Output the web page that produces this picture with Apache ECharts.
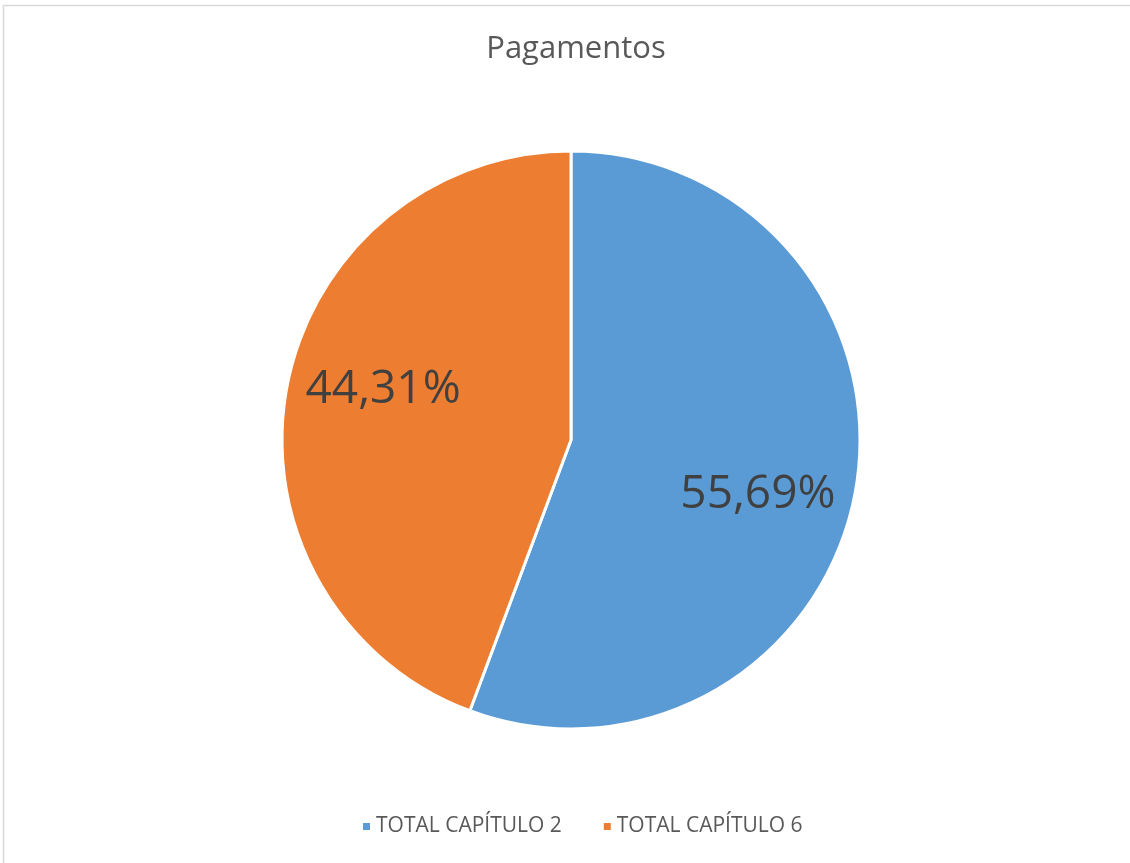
<!DOCTYPE html>
<html>
<head>
<meta charset="utf-8">
<script src="https://cdn.jsdelivr.net/npm/echarts@6/dist/echarts.min.js"></script>
<style>
  html, body { margin: 0; padding: 0; background: #fff; }
  #chart { width: 1130px; height: 863px; }
</style>
</head>
<body>
<div id="chart"></div>
<script>
// dados do gráfico
const categorias = ['TOTAL CAPÍTULO 2', 'TOTAL CAPÍTULO 6'];
const percentagens = [55.69, 44.31];
const cores = ['#5B9BD5', '#ED7D31'];

const fonte = '"Open Sans", "Noto Sans", sans-serif';
const dados = categorias.map((nome, i) => ({ name: nome, value: percentagens[i] }));

const chart = echarts.init(document.getElementById('chart'));

chart.setOption({
  animation: false,
  color: cores,
  title: {
    text: 'Pagamentos',
    left: 571,
    textAlign: 'center',
    top: 29,
    textStyle: { fontFamily: fonte, fontSize: 31, fontWeight: 'normal', color: '#595959' }
  },
  legend: {
    bottom: 21,
    left: 356,
    icon: 'rect',
    itemWidth: 9,
    itemHeight: 9,
    itemGap: 40,
    textStyle: { fontFamily: fonte, fontSize: 21, color: '#595959' },
    data: categorias
  },
  graphic: [{
    type: 'rect',
    shape: { x: 3.5, y: 5.5, width: 1140, height: 870 },
    style: { fill: 'none', stroke: '#d9d9d9', lineWidth: 1.5 },
    silent: true
  }],
  series: [
    {
      type: 'pie',
      center: [571, 440],
      radius: [0, 289],
      startAngle: 90,
      clockwise: true,
      data: dados,
      label: { show: false },
      labelLine: { show: false },
      itemStyle: { borderColor: '#fff', borderWidth: 3 },
      emphasis: { disabled: true }
    },
    {
      // série auxiliar só para colocar os rótulos mais perto da borda
      type: 'pie',
      center: [571, 440],
      radius: [0, 384],
      startAngle: 90,
      clockwise: true,
      silent: true,
      z: 5,
      data: dados.map((d, i) => ({
        name: d.name,
        value: d.value,
        label: { offset: i === 0 ? [-5, 20] : [4, -15] }
      })),
      itemStyle: { color: 'rgba(0,0,0,0)' },
      label: {
        show: true,
        position: 'inside',
        fontFamily: fonte,
        fontSize: 46,
        color: '#404040',
        formatter: p => p.value.toFixed(2).replace('.', ',') + '%'
      },
      labelLine: { show: false },
      emphasis: { disabled: true }
    }
  ]
});
</script>
</body>
</html>
